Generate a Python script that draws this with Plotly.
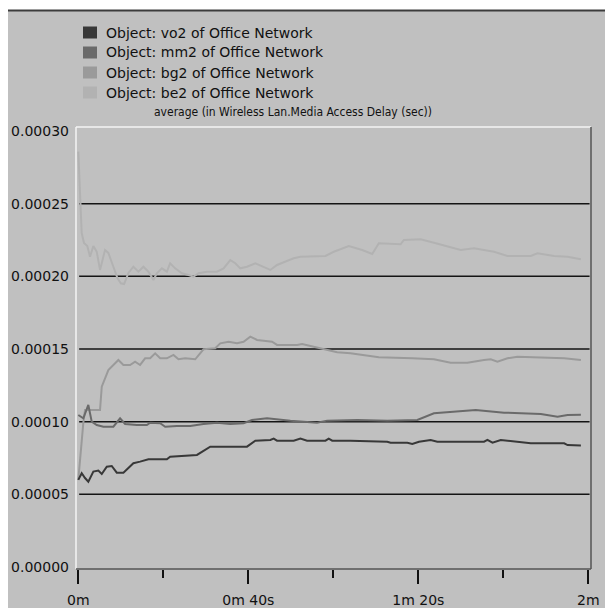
import plotly.graph_objects as go

# Simulation time (seconds) and average Wireless LAN media access delay (seconds)
vo2_t = [0, 0.80, 1.58, 2.36, 3.54, 4.72, 5.52, 6.70, 7.87, 9.05, 10.61, 12.96, 14.54,
         16.50, 20.84, 21.61, 27.92, 31.05, 39.69, 41.65, 45.19, 45.97, 46.76, 50.68,
         52.26, 53.83, 58.15, 58.93, 59.74, 64.04, 72.70, 73.48, 77.41, 78.59, 80.16,
         82.90, 84.48, 95.46, 96.27, 97.45, 99.40, 102.95, 106.47, 114.32, 115.12, 118.26]
vo2_v = [59.9, 64.5, 61.2, 58.7, 65.6, 66.3, 64.0, 69.0, 69.5, 64.9, 64.9, 71.4, 72.5,
         74.1, 74.1, 75.9, 77.1, 82.8, 82.8, 86.9, 87.4, 88.3, 86.9, 86.9,
         88.3, 86.9, 86.9, 88.3, 86.9, 86.9, 86.2, 85.5, 85.5, 84.6, 86.2,
         87.4, 86.2, 86.2, 87.4, 85.5, 87.4, 86.2, 85.1, 85.1, 83.9, 83.6]

mm2_t = [0, 1.18, 2.36, 3.16, 4.34, 5.90, 8.25, 9.83, 11.01, 13.77, 16.13, 16.90, 19.26,
         20.44, 23.19, 26.33, 29.46, 32.62, 35.76, 38.89, 40.87, 44.41, 49.90, 56.19,
         58.55, 65.62, 72.70, 76.61, 79.77, 83.68, 89.97, 93.50, 100.19, 108.83, 112.76,
         115.12, 118.26]
mm2_v = [104.6, 102.3, 111.5, 100.0, 97.7, 96.5, 96.5, 102.3, 98.4, 97.7, 97.7, 99.3, 98.9,
         96.5, 97.0, 97.0, 98.4, 99.3, 98.4, 98.9, 101.1, 102.3, 100.7, 99.3,
         100.7, 101.1, 100.7, 101.1, 101.1, 105.8, 106.9, 108.0, 106.2, 105.3, 103.4,
         104.6, 104.8]

bg2_t = [0, 0.40, 0.87, 1.18, 1.58, 5.11, 5.52, 7.07, 9.43, 10.61, 12.19, 13.36, 14.54,
         15.72, 16.90, 18.08, 19.26, 20.84, 22.39, 23.57, 25.15, 27.51, 29.46, 32.22,
         33.40, 35.36, 37.34, 38.89, 40.47, 42.05, 43.61, 45.59, 46.76, 51.48, 52.66,
         54.61, 56.57, 58.55, 60.91, 64.04, 67.18, 70.71, 78.59, 83.68, 87.61, 91.55,
         95.46, 97.04, 98.62, 100.98, 103.34, 106.47, 114.32, 118.26]
bg2_v = [59.9, 73.6, 90.8, 99.1, 108.0, 108.0, 124.1, 135.5, 142.4, 139.0, 139.0, 141.3, 139.0,
         143.6, 143.6, 147.0, 143.6, 143.6, 145.9, 142.9, 143.6, 142.9, 149.8, 150.5,
         153.9, 155.0, 153.9, 155.0, 158.5, 156.2, 155.7, 155.0, 152.8, 152.8, 153.4,
         152.1, 150.5, 149.3, 147.7, 147.0, 145.9, 144.3, 143.6, 142.9, 140.6, 140.6,
         142.4, 142.9, 141.3, 143.6, 144.7, 144.3, 143.6, 142.4]

be2_t = [0, 0.52, 0.80, 1.34, 2.12, 2.76, 3.54, 4.34, 5.11, 6.29, 7.07, 8.25, 9.19, 9.99,
         10.77, 11.79, 12.96, 14.14, 15.32, 16.50, 17.68, 18.48, 19.66, 20.84, 21.61,
         22.79, 24.37, 25.93, 27.11, 28.29, 30.27, 32.62, 34.18, 35.76, 36.94, 38.12,
         39.69, 41.65, 43.61, 45.19, 46.76, 48.72, 50.68, 52.26, 58.15, 60.11, 63.64,
         66.80, 69.16, 70.71, 75.83, 76.61, 80.54, 83.68, 86.84, 89.97, 93.11, 97.82,
         100.98, 106.47, 108.05, 111.96, 115.12, 118.26]
be2_v = [285.8, 252.5, 229.8, 222.9, 220.9, 213.5, 220.9, 216.9, 204.4, 218.1, 216.1, 206.6,
         198.9, 195.2, 194.7, 202.3, 206.6, 203.2, 206.6, 203.2, 197.5, 202.1, 205.5, 203.2,
         209.0, 205.5, 202.1, 200.9, 199.7, 202.1, 203.2, 203.2, 205.5, 211.2, 209.0, 205.5,
         206.6, 209.0, 206.6, 204.4, 207.8, 210.1, 212.4, 213.5, 214.0, 216.9, 220.9,
         218.1, 215.4, 222.7, 222.0, 225.0, 225.5, 223.1, 220.4, 218.1, 219.3, 216.9,
         214.0, 214.0, 215.8, 214.0, 213.5, 211.7]

SCALE = 1e-6  # values above are in microseconds

series_names = ["Object: vo2 of Office Network", "Object: mm2 of Office Network",
                "Object: bg2 of Office Network", "Object: be2 of Office Network"]
series_colors = ["#383838", "#6a6a6a", "#9a9a9a", "#b2b2b2"]
series_t = [vo2_t, mm2_t, bg2_t, be2_t]
series_v = [vo2_v, mm2_v, bg2_v, be2_v]
chart_title = "average (in Wireless Lan.Media Access Delay (sec))"

y_ticks = [0.0, 0.00005, 0.00010, 0.00015, 0.00020, 0.00025, 0.00030]
y_tick_text = ["0.00000", "0.00005", "0.00010", "0.00015", "0.00020", "0.00025", "0.00030"]
grid_levels = [0.00005, 0.00010, 0.00015, 0.00020, 0.00025]
x_ticks = [0, 40, 80, 120]
x_tick_text = ["0m", "0m 40s", "1m 20s", "2m"]
x_minor = [20, 60, 100]

FONT = "DejaVu Sans"
TITLE_FONT = "DejaVu Sans Condensed, DejaVu Sans"
W, H = 605, 608
L, R, T, B = 76, 14, 127, 39
PW, PH = W - L - R, H - T - B


def px(xp):
    return (xp - L) / PW


def py(yp):
    return (H - B - yp) / PH


fig = go.Figure()

# draw lightest series first so darker ones sit on top
for name, color, t, v in reversed(list(zip(series_names, series_colors, series_t, series_v))):
    fig.add_trace(go.Scatter(
        x=t, y=[val * SCALE for val in v], mode="lines", name=name,
        line=dict(color=color, width=2), showlegend=False, hoverinfo="skip"))

shapes = []
# horizontal reference lines
for g in grid_levels:
    shapes.append(dict(type="line", xref="x", yref="y", x0=0.2, x1=120.3, y0=g, y1=g,
                       line=dict(color="#141414", width=1.5), layer="below"))
# plot frame: light top/left edges, dark right/bottom edges
shapes += [
    dict(type="line", xref="paper", yref="paper", x0=0, x1=0, y0=0, y1=1,
         line=dict(color="#f4f4f4", width=1.5), layer="above"),
    dict(type="line", xref="paper", yref="paper", x0=0, x1=1, y0=1, y1=1,
         line=dict(color="#f4f4f4", width=1.5), layer="above"),
    dict(type="line", xref="paper", yref="paper", x0=1, x1=1, y0=0, y1=1,
         line=dict(color="#555555", width=1.5), layer="above"),
    dict(type="line", xref="paper", yref="paper", x0=0, x1=1, y0=0, y1=0,
         line=dict(color="#555555", width=1.5), layer="above"),
]
# window surround: white strips at top and left, dark rule under the top strip
shapes += [
    dict(type="rect", xref="paper", yref="paper", x0=px(0), x1=px(W), y0=py(10), y1=py(0),
         fillcolor="white", line=dict(width=0), layer="above"),
    dict(type="rect", xref="paper", yref="paper", x0=px(0), x1=px(8), y0=py(H), y1=py(0),
         fillcolor="white", line=dict(width=0), layer="above"),
    dict(type="line", xref="paper", yref="paper", x0=px(8), x1=px(W), y0=py(10.5), y1=py(10.5),
         line=dict(color="#3c3c3c", width=2), layer="above"),
]

annotations = []
# legend: square swatches followed by series names
for i, (name, color) in enumerate(zip(series_names, series_colors)):
    cy = 32.5 + 20 * i
    shapes.append(dict(type="rect", xref="paper", yref="paper",
                       x0=px(83), x1=px(97), y0=py(cy + 6), y1=py(cy - 6),
                       fillcolor=color, line=dict(width=0), layer="above"))
    annotations.append(dict(text=name, xref="paper", yref="paper", x=px(104), y=py(cy),
                            xanchor="left", yanchor="middle", showarrow=False,
                            font=dict(family=FONT, size=14, color="#111111")))
annotations.append(dict(text=chart_title, xref="paper", yref="paper", x=px(293), y=py(112),
                        xanchor="center", yanchor="middle", showarrow=False,
                        font=dict(family=TITLE_FONT, size=12, color="#111111")))

fig.update_layout(
    width=W, height=H,
    margin=dict(l=L, r=R, t=T, b=B, pad=0, autoexpand=False),
    paper_bgcolor="#c0c0c0", plot_bgcolor="#c0c0c0",
    showlegend=False,
    shapes=shapes, annotations=annotations,
    font=dict(family=FONT, size=14, color="#111111"),
    xaxis=dict(range=[-0.542, 120.636], showgrid=False, zeroline=False, showline=False,
               automargin=False,
               tickmode="array", tickvals=x_ticks, ticktext=x_tick_text,
               ticks="outside", ticklen=14, tickwidth=2, tickcolor="#111111",
               ticklabelstandoff=4,
               minor=dict(tickvals=x_minor, ticks="outside", ticklen=8, tickwidth=2,
                          tickcolor="#111111", showgrid=False),
               tickfont=dict(family=FONT, size=14, color="#111111"), fixedrange=True),
    yaxis=dict(range=[-0.0000014, 0.00030275], showgrid=False, zeroline=False, showline=False,
               automargin=False,
               tickmode="array", tickvals=y_ticks, ticktext=y_tick_text, ticks="",
               ticklabelstandoff=6,
               tickfont=dict(family=FONT, size=14, color="#111111"), fixedrange=True),
)

fig.write_html("out.html", config={"displayModeBar": False})
